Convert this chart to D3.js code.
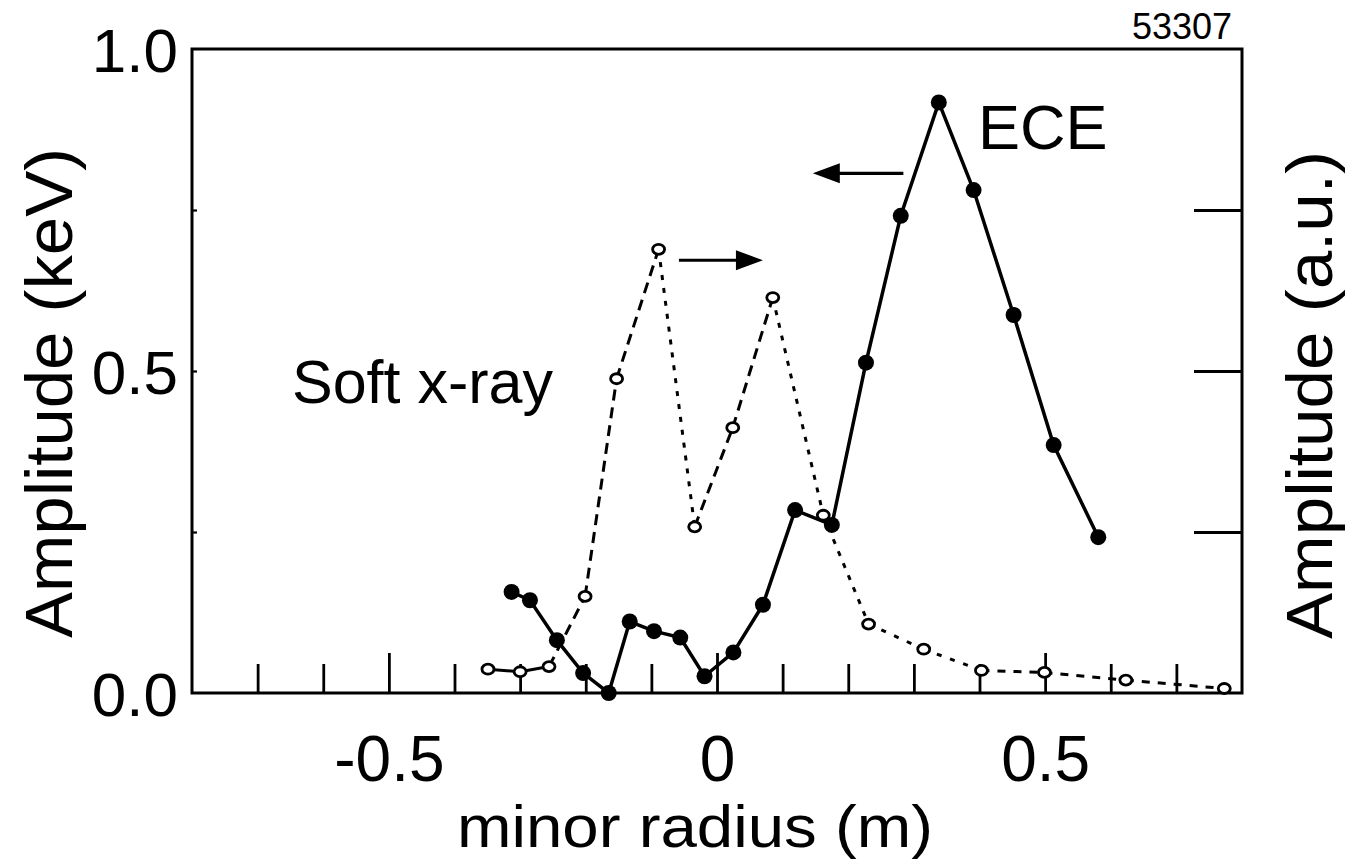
<!DOCTYPE html>
<html>
<head>
<meta charset="utf-8">
<script src="https://cdn.jsdelivr.net/npm/d3@7"></script>
<style>
  html, body { margin: 0; padding: 0; background: #fff; }
  svg { display: block; font-family: "Liberation Sans", Arial, Helvetica, sans-serif; }
</style>
</head>
<body>
<svg id="chart" width="1349" height="861"></svg>
<script>
// ---- data ----
const eceRadius = [-0.313, -0.285, -0.244, -0.204, -0.165, -0.133, -0.096, -0.056, -0.019, 0.025, 0.070,
                   0.119, 0.175, 0.227, 0.280, 0.338, 0.391, 0.452, 0.513, 0.581];
const eceAmp    = [0.157, 0.144, 0.082, 0.031, 0.000, 0.111, 0.096, 0.086, 0.026, 0.063, 0.137,
                   0.284, 0.261, 0.513, 0.741, 0.917, 0.781, 0.587, 0.385, 0.242];
const sxrRadius = [-0.349, -0.300, -0.256, -0.201, -0.153, -0.089, -0.034, 0.024, 0.085, 0.162,
                   0.231, 0.315, 0.403, 0.499, 0.623, 0.773];
const sxrAmp    = [0.037, 0.033, 0.041, 0.150, 0.488, 0.689, 0.258, 0.412, 0.614, 0.276,
                   0.107, 0.068, 0.035, 0.032, 0.020, 0.007];
const xMinorTicks = [-0.7, -0.6, -0.5, -0.4, -0.3, -0.2, -0.1, 0, 0.1, 0.2, 0.3, 0.4, 0.5, 0.6, 0.7];
const xLabelTicks = [-0.5, 0, 0.5];
const yLabelTicks = [0.0, 0.5, 1.0];
const yInnerTicks = [0.25, 0.5, 0.75];
const shotNumber = "53307";

// ---- styles (segment dash pattern of the soft x-ray curve) ----
const sxrSegDash = ["none", "none", "11,7", "11,7", "11,7", "5,8", "11,7", "11,7", "5,8",
                    "5,8", "5,9", "5,9", "8,8", "8,8", "8,8"];

const svg = d3.select("#chart");
const W = 1349, H = 861;
svg.append("rect").attr("width", W).attr("height", H).attr("fill", "#fff");

const L = 192, R = 1242, T = 49, B = 693;
const x = d3.scaleLinear().domain([-0.8, 0.8]).range([L, R]);
const y = d3.scaleLinear().domain([0, 1]).range([B, T]);

// frame
svg.append("rect").attr("x", L).attr("y", T).attr("width", R - L).attr("height", B - T)
  .attr("fill", "none").attr("stroke", "#000").attr("stroke-width", 3);

// bottom ticks (inward)
const bx = svg.append("g").attr("transform", `translate(0,${B})`)
  .call(d3.axisBottom(x).tickValues(xMinorTicks).tickSize(-29).tickFormat(""));
bx.select(".domain").remove();
bx.selectAll(".tick line").attr("stroke", "#000").attr("stroke-width", 2.8)
  .attr("y2", d => xLabelTicks.some(v => Math.abs(v - d) < 1e-9) ? -40 : -29);

// bottom labels
const bl = svg.append("g").attr("transform", `translate(0,${B})`)
  .call(d3.axisBottom(x).tickValues(xLabelTicks).tickSize(0).tickPadding(0)
        .tickFormat(d => d === 0 ? "0" : (d < 0 ? "-" : "") + d3.format(".1f")(Math.abs(d))));
bl.select(".domain").remove();
bl.selectAll(".tick text").attr("font-size", 64).attr("fill", "#000")
  .attr("font-family", "Liberation Sans, Arial, sans-serif")
  .attr("dy", null).attr("y", 88);

// right axis ticks (inward, long)
const ry = svg.append("g").attr("transform", `translate(${R},0)`)
  .call(d3.axisRight(y).tickValues(yInnerTicks).tickSize(-48).tickFormat(""));
ry.select(".domain").remove();
ry.selectAll(".tick line").attr("stroke", "#000").attr("stroke-width", 2.8);

// left axis: small inward ticks + labels
const ly = svg.append("g").attr("transform", `translate(${L},0)`)
  .call(d3.axisLeft(y).tickValues(yInnerTicks).tickSize(-5).tickFormat(""));
ly.select(".domain").remove();
ly.selectAll(".tick line").attr("stroke", "#000").attr("stroke-width", 2.2);

const lyl = svg.append("g").attr("transform", `translate(${L},0)`)
  .call(d3.axisLeft(y).tickValues(yLabelTicks).tickSize(0).tickPadding(14).tickFormat(d3.format(".1f")));
lyl.select(".domain").remove();
lyl.selectAll(".tick text").attr("font-size", 62).attr("fill", "#000")
  .attr("font-family", "Liberation Sans, Arial, sans-serif")
  .attr("dy", "0.36em");

// axis titles
svg.append("text").attr("x", 695).attr("y", 847)
  .attr("text-anchor", "middle").attr("font-size", 59)
  .attr("textLength", 476).attr("lengthAdjust", "spacingAndGlyphs").text("minor radius (m)");
svg.append("text").attr("transform", `translate(72,393) rotate(-90)`)
  .attr("text-anchor", "middle").attr("font-size", 66)
  .attr("textLength", 490).attr("lengthAdjust", "spacingAndGlyphs").text("Amplitude (keV)");
svg.append("text").attr("transform", `translate(1332,395) rotate(-90)`)
  .attr("text-anchor", "middle").attr("font-size", 64)
  .attr("textLength", 488).attr("lengthAdjust", "spacingAndGlyphs").text("Amplitude (a.u.)");
svg.append("text").attr("x", 1232).attr("y", 39).attr("text-anchor", "end")
  .attr("font-size", 36).text(shotNumber);

// soft x-ray curve (segment-wise dashed)
const sxr = sxrRadius.map((r, i) => [r, sxrAmp[i]]);
const segs = d3.pairs(sxr);
svg.append("g").selectAll("line").data(segs).join("line")
  .attr("x1", d => x(d[0][0])).attr("y1", d => y(d[0][1]))
  .attr("x2", d => x(d[1][0])).attr("y2", d => y(d[1][1]))
  .attr("stroke", "#000").attr("stroke-width", 3)
  .attr("stroke-dasharray", (d, i) => sxrSegDash[i]);

// ECE curve
const ece = eceRadius.map((r, i) => [r, eceAmp[i]]);
svg.append("path").datum(ece)
  .attr("d", d3.line().x(d => x(d[0])).y(d => y(d[1])))
  .attr("fill", "none").attr("stroke", "#000").attr("stroke-width", 3.5);

// markers
svg.append("g").selectAll("ellipse").data(sxr).join("ellipse")
  .attr("cx", d => x(d[0])).attr("cy", d => y(d[1])).attr("rx", 6).attr("ry", 5)
  .attr("fill", "#fff").attr("stroke", "#000").attr("stroke-width", 2.8);
svg.append("g").selectAll("circle").data(ece).join("circle")
  .attr("cx", d => x(d[0])).attr("cy", d => y(d[1])).attr("r", 8).attr("fill", "#000");

// annotations
svg.append("text").attr("x", 978).attr("y", 149).attr("font-size", 63).text("ECE");
svg.append("text").attr("x", 292).attr("y", 403).attr("font-size", 61).text("Soft x-ray");

function arrow(x1, x2, yv, dir) {
  const yy = y(yv), xa = x(x1), xb = x(x2);
  svg.append("line").attr("x1", xa).attr("y1", yy).attr("x2", xb - dir * 20).attr("y2", yy)
    .attr("stroke", "#000").attr("stroke-width", 3.2);
  svg.append("path")
    .attr("d", `M${xb},${yy} L${xb - dir * 27},${yy - 10} L${xb - dir * 27},${yy + 10} Z`)
    .attr("fill", "#000");
}
arrow(0.284, 0.146, 0.807, -1);
arrow(-0.058, 0.070, 0.672, 1);
</script>
</body>
</html>
